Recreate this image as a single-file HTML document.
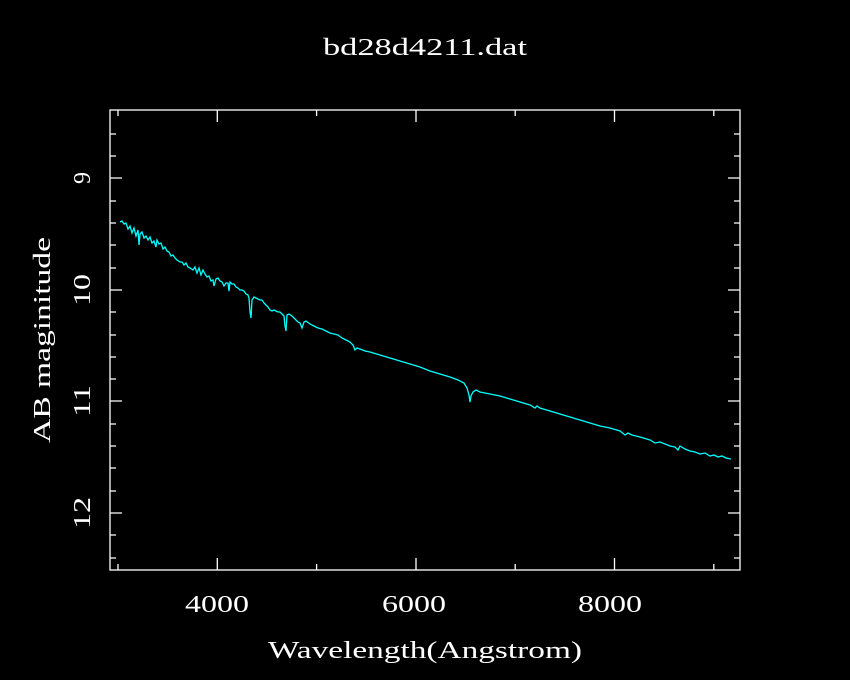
<html><body style="margin:0;background:#000">
<svg width="850" height="680" xmlns="http://www.w3.org/2000/svg" style="display:block">
<rect width="850" height="680" fill="#000"/>
<g fill="#fff" font-family="Liberation Serif, serif">
<text x="425" y="55" font-size="24" text-anchor="middle" textLength="204" lengthAdjust="spacingAndGlyphs">bd28d4211.dat</text>
<text x="425" y="658" font-size="24" text-anchor="middle" textLength="314" lengthAdjust="spacingAndGlyphs">Wavelength(Angstrom)</text>
<text transform="translate(50,340) rotate(-90)" font-size="24" text-anchor="middle" textLength="206" lengthAdjust="spacingAndGlyphs">AB maginitude</text>
<text x="217" y="612" font-size="24" text-anchor="middle" textLength="64" lengthAdjust="spacingAndGlyphs">4000</text>
<text x="414" y="612" font-size="24" text-anchor="middle" textLength="64" lengthAdjust="spacingAndGlyphs">6000</text>
<text x="610" y="612" font-size="24" text-anchor="middle" textLength="64" lengthAdjust="spacingAndGlyphs">8000</text>
<text transform="translate(90,178) rotate(-90)" font-size="24" text-anchor="middle">9</text>
<text transform="translate(90,290) rotate(-90)" font-size="24" text-anchor="middle" textLength="32" lengthAdjust="spacingAndGlyphs">10</text>
<text transform="translate(90,401) rotate(-90)" font-size="24" text-anchor="middle" textLength="32" lengthAdjust="spacingAndGlyphs">11</text>
<text transform="translate(90,513) rotate(-90)" font-size="24" text-anchor="middle" textLength="32" lengthAdjust="spacingAndGlyphs">12</text>
</g>
<rect x="110" y="110" width="630" height="460" fill="none" stroke="#fff" stroke-width="1.3"/>
<g stroke="#fff" stroke-width="1.3">
<path d="M118,570v-6M118,110v6M217.3,570v-12M217.3,110v12M316.6,570v-6M316.6,110v6M416,570v-12M416,110v12M515.2,570v-6M515.2,110v6M614.5,570v-12M614.5,110v12M713.8,570v-6M713.8,110v6"/>
<path d="M110,134h6M110,156h6M110,178h12M110,201h6M110,223h6M110,245h6M110,268h6M110,290h12M110,312h6M110,335h6M110,357h6M110,379h6M110,401h12M110,424h6M110,446h6M110,468h6M110,491h6M110,513h12M110,535h6M110,558h6"/>
<path d="M740,134h-6M740,156h-6M740,178h-12M740,201h-6M740,223h-6M740,245h-6M740,268h-6M740,290h-12M740,312h-6M740,335h-6M740,357h-6M740,379h-6M740,401h-12M740,424h-6M740,446h-6M740,468h-6M740,491h-6M740,513h-12M740,535h-6M740,558h-6"/>
</g>
<polyline fill="none" stroke="#0ff" stroke-width="1.3" points="
120,222 122,221 124,224 126,223 128,229 130,226 132,233 134,228 136,236 138,230 139,245 140,234 142,232 144,238 146,236 148,240 150,237 152,243 154,241 156,247 157,240 159,244 161,243 163,249 165,247 167,251 169,252 171,256 173,255 175,258 177,260 180,262 182,262 184,265 186,263 188,267 190,268 193,270 195,267 197,273 199,268 201,275 203,270 205,274 207,277 209,276 211,281 213,280 214,286 216,279 218,278 220,281 222,282 224,286 226,283 228,283 229,291 230,282 232,284 234,284 236,287 238,288 240,290 242,290 244,291 246,294 248,295 249,298 250,312 251,318 252,300 254,297 256,298 258,299 260,300 262,300 264,303 266,305 268,307 270,310 272,311 274,310 276,311 278,312 280,312 282,314 284,316 285,326 286,331 287,315 289,314 292,316 294,318 296,320 298,322 300,323 302,328 304,322 306,321 310,324 314,326 318,328 322,329 326,331 330,333 334,334 338,335 342,338 346,340 350,342 353,345 355,350 357,348 360,349 365,351 370,352 380,355 390,358 400,361 410,364 420,367 430,371 440,374 450,377 458,380 464,383 467,388 469,395 470,402 471,396 473,392 476,390 480,392 490,394 500,396 510,399 520,402 530,405 535,408 537,406 540,408 550,411 560,414 570,417 580,420 590,423 600,426 610,428 620,431 625,435 628,433 632,435 640,437 650,440 655,443 660,442 670,446 675,447 678,450 680,446 685,449 690,451 695,452 700,454 705,453 710,456 714,455 718,457 722,456 726,458 731,459"/>
</svg>
</body></html>
